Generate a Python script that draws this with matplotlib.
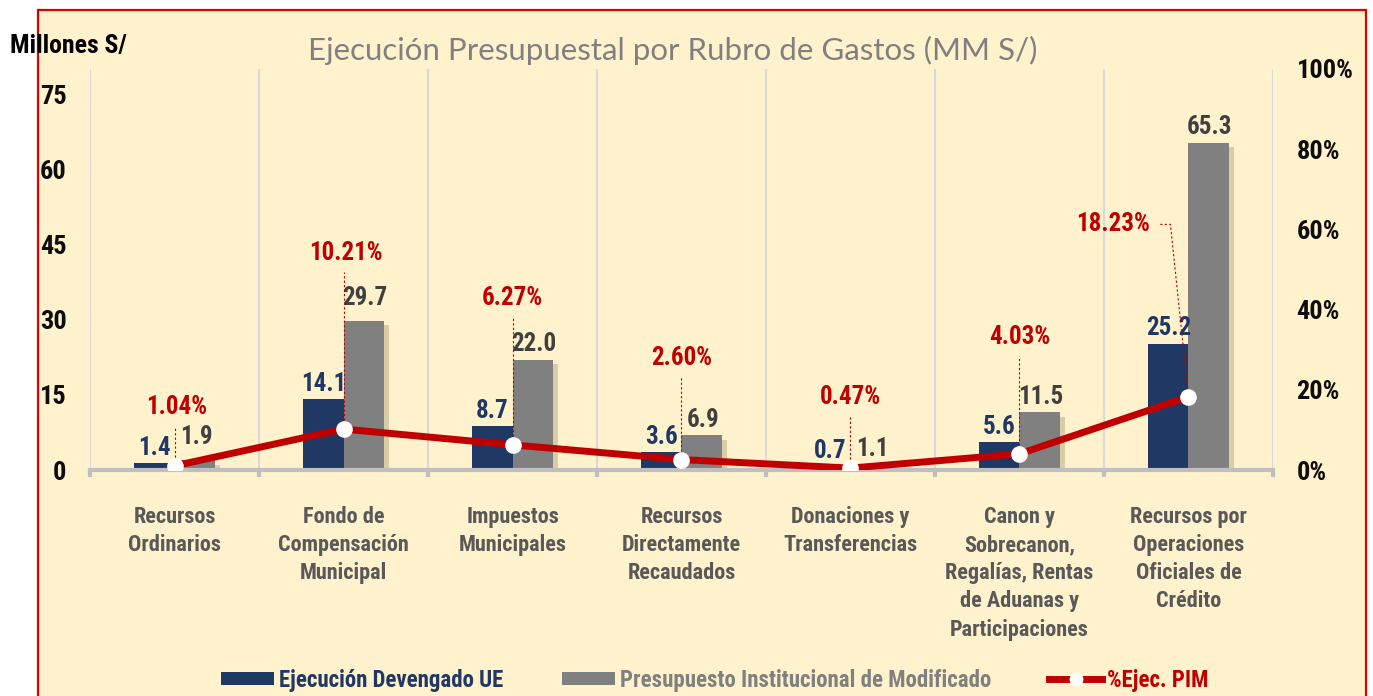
import matplotlib
matplotlib.use("Agg")
import matplotlib.pyplot as plt
import matplotlib.patheffects as pe
from matplotlib.patches import Rectangle, Patch
from matplotlib.lines import Line2D
import numpy as np

plt.rcParams['font.family'] = ['Liberation Sans Narrow', 'Roboto Condensed', 'Liberation Sans', 'DejaVu Sans']
plt.rcParams['font.weight'] = 'bold'

# data
categorias = ["Recursos\nOrdinarios", "Fondo de\nCompensación\nMunicipal",
              "Impuestos\nMunicipales", "Recursos\nDirectamente\nRecaudados",
              "Donaciones y\nTransferencias",
              "Canon y\nSobrecanon,\nRegalías, Rentas\nde Aduanas y\nParticipaciones",
              "Recursos por\nOperaciones\nOficiales de\nCrédito"]
devengado = [1.4, 14.1, 8.7, 3.6, 0.7, 5.6, 25.2]
pim = [1.9, 29.7, 22.0, 6.9, 1.1, 11.5, 65.3]
ejec_pct = [0.0104, 0.1021, 0.0627, 0.0260, 0.0047, 0.0403, 0.1823]
pct_labels = ["1.04%", "10.21%", "6.27%", "2.60%", "0.47%", "4.03%", "18.23%"]

# label placement (right-axis units)
pct_lab_x = [0.01, 0.015, 0.0, 0.0, 0.0, 0.0, -0.447]
pct_lab_y = [0.1575, 0.54, 0.43, 0.28, 0.1825, 0.3325, 0.6125]

NAVY = "#1F3864"
GRAY = "#808080"
RED = "#C00000"
CREAM = "#FFF2CC"

fig = plt.figure(figsize=(13.73, 6.96), dpi=100, facecolor="white")
frame = Rectangle((38 / 1373, -0.05), (1366 - 38) / 1373, 1.05 - 10 / 696,
                  transform=fig.transFigure, facecolor=CREAM, edgecolor="#E00000",
                  linewidth=1.6, zorder=-10)
fig.patches.append(frame)

ax = fig.add_axes([90 / 1373, 1 - 470 / 696, (1273 - 90) / 1373, (470 - 69) / 696])
ax.patch.set_visible(False)
x = np.arange(len(categorias))
w = 0.237
shadow = [pe.SimplePatchShadow(offset=(4, -3), shadow_rgbFace="#6b6040", alpha=0.25), pe.Normal()]
b1 = ax.bar(x - w / 2, devengado, w, color=NAVY, zorder=3, path_effects=shadow)
b2 = ax.bar(x + w / 2, pim, w, color=GRAY, zorder=3, path_effects=shadow)

ax.set_xlim(-0.5, len(categorias) - 0.5)
ax.set_ylim(0, 80)
ax.set_yticks([0, 15, 30, 45, 60, 75])
ax.tick_params(axis='y', length=0, pad=17, labelsize=19, labelcolor="#0D0D0D")
ax.set_xticks(x)
ax.set_xticklabels(categorias, fontsize=16, color="#595959", linespacing=1.36, va="top")
ax.tick_params(axis='x', which='major', length=0, pad=26)
ax.set_xticks(np.arange(-0.5, len(categorias)), minor=True)
ax.tick_params(axis='x', which='minor', length=5, width=3, color="#BFBFBF")
ax.grid(True, axis='x', which='minor', color="#D9D9D9", linewidth=1.5, zorder=0)
for s in ["top", "left", "right"]:
    ax.spines[s].set_visible(False)
ax.spines["bottom"].set_color("#BFBFBF")
ax.spines["bottom"].set_linewidth(3)
ax.spines["bottom"].set_zorder(4)

for i in range(len(x)):
    ax.annotate(f"{devengado[i]:.1f}", (x[i] - w / 2, devengado[i]), xytext=(0, 11),
                textcoords="offset points", ha="center", va="center",
                fontsize=18, color=NAVY, zorder=5)
    extra = 6 if i in (0, 1) else 0
    ax.annotate(f"{pim[i]:.1f}", (x[i] + w / 2, pim[i]), xytext=(1, 11 + extra),
                textcoords="offset points", ha="center", va="center",
                fontsize=18, color="#404040", zorder=5)

ax2 = ax.twinx()
ax2.set_ylim(0, 1)
ax2.set_yticks(np.arange(0, 1.01, 0.2))
ax2.set_yticklabels([f"{t:.0%}" for t in np.arange(0, 1.01, 0.2)])
ax2.tick_params(axis='y', length=0, pad=17, labelsize=19, labelcolor="#0D0D0D")
for s in ax2.spines.values():
    s.set_visible(False)

ax2.plot(x, ejec_pct, color=RED, linewidth=5, zorder=6, solid_capstyle="round")
ax2.plot(x, ejec_pct, linestyle="none", marker="o", markersize=12,
         markerfacecolor="white", markeredgecolor="none", zorder=7)

for i in range(len(x)):
    lx = x[i] + pct_lab_x[i]
    ly = pct_lab_y[i]
    if pct_lab_x[i] < -0.1:
        ax2.plot([lx + 0.28, lx + 0.34, x[i]], [ly, ly, ejec_pct[i]],
                 color=RED, linewidth=0.8, linestyle=(0, (2, 2)), zorder=5)
    else:
        ax2.plot([x[i], x[i]], [ejec_pct[i], ly - 0.047],
                 color=RED, linewidth=0.8, linestyle=(0, (2, 2)), zorder=5)
    ax2.text(lx, ly, pct_labels[i], ha="center", va="center", fontsize=18,
             color=RED, zorder=8)

fig.text(673 / 1373, 1 - 50 / 696, "Ejecución Presupuestal por Rubro de Gastos (MM S/)",
         ha="center", va="center", fontsize=22.5, color="#808080",
         family=["Lato", "DejaVu Sans"], fontweight="normal")
fig.text(10 / 1373, 1 - 46 / 696, "Millones S/", ha="left", va="center",
         fontsize=18.5, color="black")

handles = [Patch(facecolor=NAVY), Patch(facecolor=GRAY),
           Line2D([0], [0], color=RED, linewidth=5, marker="o", markersize=10,
                  markerfacecolor="white", markeredgecolor="none")]
labels = ["Ejecución Devengado UE", "Presupuesto Institucional de Modificado", "%Ejec. PIM"]
fig.legend(handles, labels, loc="center", bbox_to_anchor=(715 / 1373, 1 - 680 / 696),
           ncol=3, frameon=False, fontsize=16.5, handlelength=2.3, handleheight=0.48,
           handletextpad=0.22, columnspacing=2.55,
           labelcolor=[NAVY, GRAY, RED])

fig.savefig("out.png", dpi=100, facecolor="white")
